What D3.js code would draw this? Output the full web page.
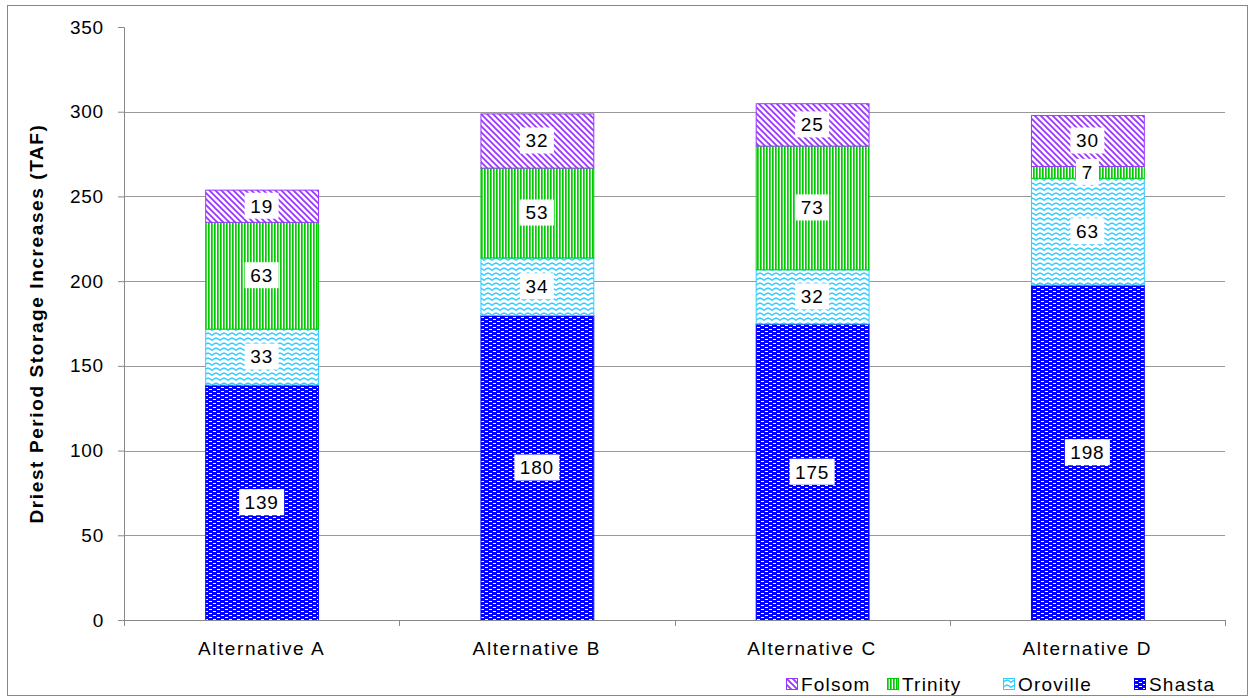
<!DOCTYPE html>
<html>
<head>
<meta charset="utf-8">
<script src="https://cdn.jsdelivr.net/npm/d3@7"></script>
<style>
  body { margin: 0; background: #fff; }
  svg { display: block; font-family: "Liberation Sans", Arial, sans-serif; }
</style>
</head>
<body>
<div id="chart"></div>
<script>
// Chart data
const categories = ['Alternative A', 'Alternative B', 'Alternative C', 'Alternative D'];
const seriesNames = ['Shasta', 'Oroville', 'Trinity', 'Folsom'];
const shasta = [139, 180, 175, 198];
const oroville = [33, 34, 32, 63];
const trinity = [63, 53, 73, 7];
const folsom = [19, 32, 25, 30];
const yTicks = [0, 50, 100, 150, 200, 250, 300, 350];
const legendOrder = ['Folsom', 'Trinity', 'Oroville', 'Shasta'];

const W = 1250, H = 698;
const margin = { top: 27, right: 25, bottom: 78, left: 124 };
const iw = W - margin.left - margin.right;
const ih = H - margin.top - margin.bottom;

const svg = d3.select('#chart').append('svg')
  .attr('width', W).attr('height', H);

// Patterns
const defs = svg.append('defs');
const styles = {
  Folsom: { stroke: '#9933FF', id: 'p-folsom' },
  Trinity: { stroke: '#00CC00', id: 'p-trinity' },
  Oroville: { stroke: '#33CCFF', id: 'p-oroville' },
  Shasta: { stroke: '#0000FF', id: 'p-shasta' }
};

// diagonal lines (top-left to bottom-right)
const pf = defs.append('pattern').attr('id', 'p-folsom').attr('patternUnits', 'userSpaceOnUse')
  .attr('width', 6).attr('height', 6);
pf.append('rect').attr('width', 6).attr('height', 6).attr('fill', '#fff');
pf.append('path').attr('d', 'M-1,-1 L7,7 M-1,5 L1,7 M5,-1 L7,1')
  .attr('stroke', '#9933FF').attr('stroke-width', 1.7);

// vertical lines
const pt = defs.append('pattern').attr('id', 'p-trinity').attr('patternUnits', 'userSpaceOnUse')
  .attr('width', 3).attr('height', 4);
pt.append('rect').attr('width', 3).attr('height', 4).attr('fill', '#fff');
pt.append('rect').attr('x', 0).attr('width', 1.7).attr('height', 4).attr('fill', '#00CC00');

// waves
const po = defs.append('pattern').attr('id', 'p-oroville').attr('patternUnits', 'userSpaceOnUse')
  .attr('width', 8).attr('height', 5);
po.append('rect').attr('width', 8).attr('height', 5).attr('fill', '#fff');
po.append('path').attr('d', 'M0,3.5 L2,1.8 L4,1 L6,1.8 L8,3.5').attr('fill', 'none')
  .attr('stroke', '#33CCFF').attr('stroke-width', 1.5);

// blue with white dashes
const ps = defs.append('pattern').attr('id', 'p-shasta').attr('patternUnits', 'userSpaceOnUse')
  .attr('width', 8).attr('height', 4);
ps.append('rect').attr('width', 8).attr('height', 4).attr('fill', '#0000FF');
ps.append('rect').attr('x', 1).attr('y', 0).attr('width', 3).attr('height', 1).attr('fill', '#fff');
ps.append('rect').attr('x', 5).attr('y', 2).attr('width', 3).attr('height', 1).attr('fill', '#fff');

// outer border
svg.append('rect').attr('x', 7.5).attr('y', 5.5).attr('width', W - 10).attr('height', H - 8)
  .attr('fill', 'none').attr('stroke', '#888').attr('stroke-width', 1);

const g = svg.append('g').attr('transform', `translate(${margin.left},${margin.top})`);

const x = d3.scaleBand().domain(categories).range([0, iw]).paddingInner(0.59).paddingOuter(0.295);
const xb = d3.scaleBand().domain(categories).range([0, iw]);
const y = d3.scaleLinear().domain([0, 350]).range([ih, 0]);

// gridlines
g.append('g').selectAll('line').data(yTicks.filter(t => t > 0 && t < 350)).join('line')
  .attr('x1', 0).attr('x2', iw)
  .attr('y1', d => Math.round(y(d)) + 0.5).attr('y2', d => Math.round(y(d)) + 0.5)
  .attr('stroke', '#999').attr('stroke-width', 1);

// stacked data
const rows = categories.map((c, i) => ({ cat: c, Shasta: shasta[i], Oroville: oroville[i], Trinity: trinity[i], Folsom: folsom[i] }));
const stack = d3.stack().keys(seriesNames)(rows);

const layers = g.append('g').selectAll('g').data(stack).join('g');
layers.selectAll('rect').data(d => d.map(v => ({ key: d.key, v }))).join('rect')
  .attr('x', d => x(d.v.data.cat) + 0.5)
  .attr('width', x.bandwidth())
  .attr('y', d => y(d.v[1]) + 0.5)
  .attr('height', d => y(d.v[0]) - y(d.v[1]))
  .attr('fill', d => `url(#${styles[d.key].id})`)
  .attr('stroke', d => styles[d.key].stroke)
  .attr('stroke-width', 1);

// value labels
const labels = g.append('g').selectAll('g').data(stack.flatMap(s => s.map(v => ({ key: s.key, v })))).join('g')
  .attr('transform', d => `translate(${x(d.v.data.cat) + x.bandwidth() / 2},${(y(d.v[0]) + y(d.v[1])) / 2})`);
labels.append('rect')
  .attr('x', d => -(String(d.v.data[d.key]).length * 11 + 12) / 2)
  .attr('y', -13)
  .attr('width', d => String(d.v.data[d.key]).length * 11 + 12)
  .attr('height', 26)
  .attr('fill', '#fff');
labels.append('text')
  .attr('text-anchor', 'middle').attr('dy', '0.36em')
  .attr('font-size', 19).attr('letter-spacing', 0.8).attr('fill', '#000')
  .text(d => d.v.data[d.key]);

// y axis
const yAxis = g.append('g').call(d3.axisLeft(y).tickValues(yTicks).tickSize(6).tickPadding(14));
yAxis.select('.domain').attr('stroke', '#888');
yAxis.selectAll('.tick line').attr('stroke', '#888');
yAxis.selectAll('text').attr('font-size', 19).attr('letter-spacing', 0.8).attr('fill', '#000')
  .attr('font-family', '"Liberation Sans", Arial, sans-serif');

// x axis
const xAxisG = g.append('g').attr('transform', `translate(0,${ih})`);
xAxisG.append('line').attr('x1', -6).attr('x2', iw).attr('y1', 0.5).attr('y2', 0.5).attr('stroke', '#888');
const bounds = [0, ...categories.map(c => xb(c) + xb.bandwidth())];
xAxisG.selectAll('.xt').data(bounds).join('line')
  .attr('x1', d => Math.round(d) + 0.5).attr('x2', d => Math.round(d) + 0.5)
  .attr('y1', 0).attr('y2', 6).attr('stroke', '#888');
xAxisG.selectAll('text').data(categories).join('text')
  .attr('x', d => xb(d) + xb.bandwidth() / 2)
  .attr('y', 35)
  .attr('text-anchor', 'middle').attr('font-size', 19).attr('letter-spacing', 1.6).attr('fill', '#000')
  .text(d => d);

// y title
svg.append('text')
  .attr('transform', `translate(43,${margin.top + ih / 2}) rotate(-90)`)
  .attr('text-anchor', 'middle').attr('font-size', 19).attr('font-weight', 'bold')
  .attr('letter-spacing', 1.6)
  .text('Driest Period Storage Increases (TAF)');

// legend
const legendX = [786, 887, 1003, 1134];
const lg = svg.append('g').selectAll('g').data(legendOrder).join('g')
  .attr('transform', (d, i) => `translate(${legendX[i]},684)`);
lg.append('rect').attr('x', 0.5).attr('y', -5.5).attr('width', 11).attr('height', 11)
  .attr('fill', d => `url(#${styles[d].id})`).attr('stroke', d => styles[d].stroke);
lg.append('text').attr('x', 15).attr('dy', '0.36em').attr('font-size', 19).attr('letter-spacing', 1.2)
  .attr('fill', '#000')
  .text(d => d);
</script>
</body>
</html>
